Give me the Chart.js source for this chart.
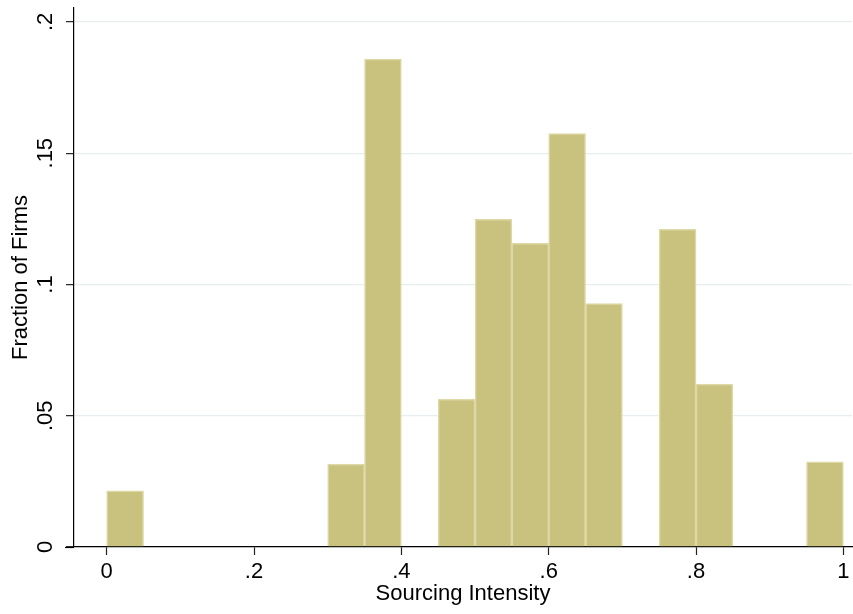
<!DOCTYPE html>
<html>
<head>
<meta charset="utf-8">
<script src="https://cdn.jsdelivr.net/npm/chart.js@4/dist/chart.umd.min.js"></script>
<style>
  html, body { margin: 0; padding: 0; background: #ffffff; }
  #wrap { width: 853px; height: 614px; }
</style>
</head>
<body>
<div id="wrap"><canvas id="c" width="853" height="614"></canvas></div>
<script>
// Histogram bins (start of each bin) and their fractions
const binStarts = [0.00, 0.30, 0.35, 0.45, 0.50, 0.55, 0.60, 0.65, 0.75, 0.80, 0.95];
const binWidth = 0.05;
const fractions = [0.0214, 0.0316, 0.1858, 0.0562, 0.1248, 0.1157, 0.1575, 0.0927, 0.1210, 0.0621, 0.0324];
const xTicks = [0, 0.2, 0.4, 0.6, 0.8, 1];
const yTicks = [0, 0.05, 0.1, 0.15, 0.2];
const xTitle = 'Sourcing Intensity';
const yTitle = 'Fraction of Firms';

const FONT = '"Liberation Sans", Arial, Helvetica, sans-serif';
const FS = 22;

function fmt(v) {
  const s = String(+Number(v).toFixed(3));
  return s.replace(/^0\./, '.');
}

const axisExt = {
  id: 'axisExt',
  afterDraw(chart) {
    const {ctx, chartArea} = chart;
    ctx.save();
    ctx.strokeStyle = '#000';
    ctx.lineWidth = 1.2;
    ctx.beginPath();
    ctx.moveTo(chartArea.left - 9, chartArea.bottom + 0.5);
    ctx.lineTo(chartArea.left, chartArea.bottom + 0.5);
    ctx.stroke();
    ctx.restore();
  }
};

new Chart(document.getElementById('c'), {
  type: 'bar',
  data: {
    datasets: [{
      data: binStarts.map((s, i) => ({ x: s + binWidth / 2, y: fractions[i] })),
      backgroundColor: '#c9c27f',
      borderColor: '#ddd9a6',
      borderWidth: 1.5,
      barPercentage: 1,
      categoryPercentage: 1
    }]
  },
  options: {
    responsive: false,
    animation: false,
    devicePixelRatio: 1,
    layout: { padding: { left: 0, right: 1, top: 8, bottom: 0 } },
    plugins: { legend: { display: false }, tooltip: { enabled: false } },
    scales: {
      x: {
        type: 'linear',
        offset: false,
        min: -0.0444,
        max: 1.0117,
        afterBuildTicks(scale) { scale.ticks = xTicks.map(v => ({ value: v })); },
        afterFit(scale) { scale.height = 67; scale.paddingLeft = 0; scale.paddingRight = 0; },
        grid: { offset: false, drawOnChartArea: false, drawTicks: true, tickLength: 8, tickColor: '#222', tickWidth: 1.2 },
        border: { display: true, color: '#000', width: 1.2 },
        ticks: {
          autoSkip: false, maxRotation: 0, minRotation: 0, padding: 4,
          color: '#000', font: { family: FONT, size: FS },
          callback: (v) => fmt(v)
        },
        title: { display: true, text: xTitle, color: '#000', font: { family: FONT, size: FS }, padding: { top: 0, bottom: 7 } }
      },
      y: {
        type: 'linear',
        min: 0,
        max: 0.2053,
        afterBuildTicks(scale) { scale.ticks = yTicks.map(v => ({ value: v })); },
        afterFit(scale) { scale.width = 74; scale.paddingTop = 0; scale.paddingBottom = 0; },
        grid: { color: '#e6eef0', lineWidth: 1.3, drawTicks: true, tickLength: 8, tickColor: '#222', tickWidth: 1.2 },
        border: { display: true, color: '#000', width: 1.2 },
        ticks: {
          autoSkip: false, minRotation: 90, maxRotation: 90, crossAlign: 'center', padding: 5,
          color: '#000', font: { family: FONT, size: FS },
          callback: (v) => fmt(v)
        },
        title: { display: true, text: yTitle, color: '#000', font: { family: FONT, size: FS }, padding: { top: 8, bottom: 0 } }
      }
    }
  },
  plugins: [axisExt]
});
</script>
</body>
</html>
